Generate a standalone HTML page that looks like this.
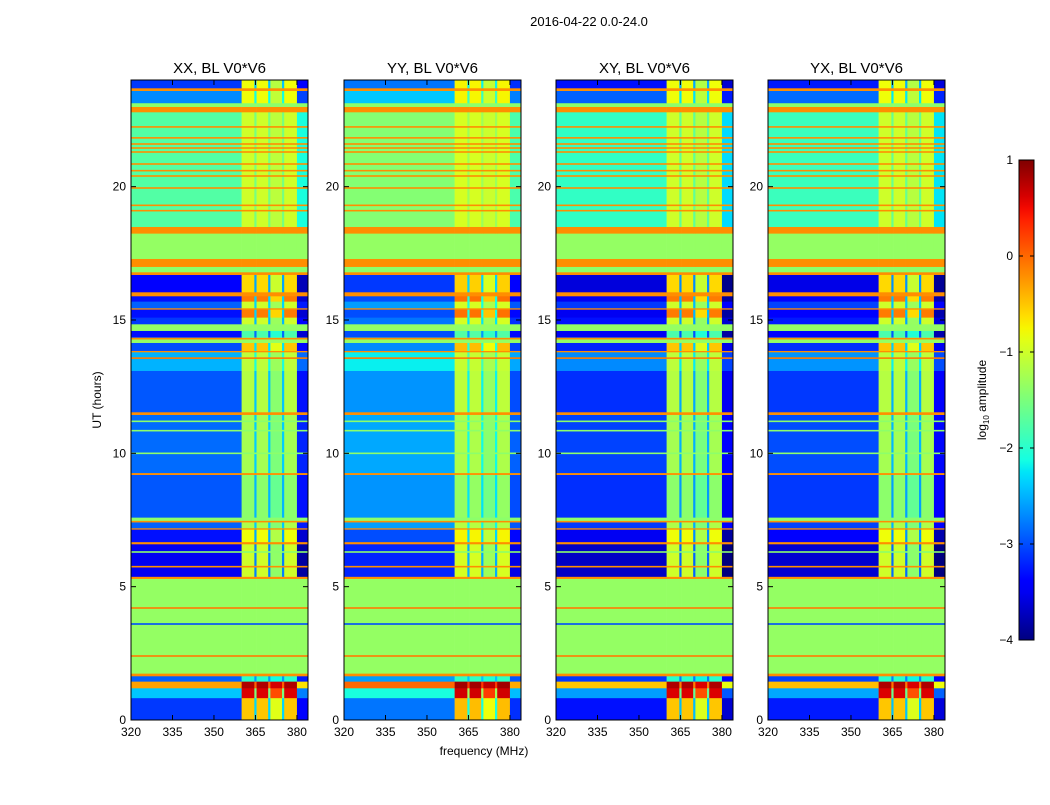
<!DOCTYPE html>
<html><head><meta charset="utf-8">
<style>
body{margin:0;background:#fff;font-family:"Liberation Sans",sans-serif;}
svg text{font-family:"Liberation Sans",sans-serif;fill:#000;}
</style></head>
<body>
<svg id="fig" width="1050" height="800" xmlns="http://www.w3.org/2000/svg">
<rect width="1050" height="800" fill="#fff"/>
<text x="589" y="26" font-size="13" text-anchor="middle">2016-04-22 0.0-24.0</text>
<text x="484" y="755" font-size="12" text-anchor="middle">frequency (MHz)</text>
<text transform="translate(101,400) rotate(-90)" font-size="12" text-anchor="middle">UT (hours)</text>
<g id="panels"></g>
<g id="cbar"></g>
</svg>
<script>
// ---- data ----
const panelTitles = ["XX, BL V0*V6","YY, BL V0*V6","XY, BL V0*V6","YX, BL V0*V6"];
const panelOutShift = [0, 0.3, -0.2, -0.15];
const panelInShift = [0, 0.05, 0, 0];
const bandStart = [0,0.83,1.2,1.45,1.65,1.75,5.3,5.38,6.6,6.68,7.15,7.2,7.42,7.48,7.6,9.2,9.27,11.45,11.55,13.1,13.8,13.85,14.15,14.35,14.6,14.85,15.1,15.4,15.45,15.7,15.9,16.05,16.7,16.8,17.0,17.3,18.25,18.5,22.8,23.0,23.14,23.6,23.7];
const bandEnd   = [0.83,1.2,1.45,1.65,1.75,5.3,5.38,6.6,6.68,7.15,7.2,7.42,7.48,7.6,9.2,9.27,11.45,11.55,13.1,13.8,13.85,14.15,14.35,14.6,14.85,15.1,15.4,15.45,15.7,15.9,16.05,16.7,16.8,17.0,17.3,18.25,18.5,22.8,23.0,23.14,23.6,23.7,24];
const bandOut   = [-3.1,-2.4,-0.3,-2.9,-0.2,-1.35,-0.2,-3.5,-0.2,-3.3,-0.2,-2.9,-0.2,-1.4,-2.95,-0.2,-2.85,-0.2,-2.95,-2.5,-0.2,-3.0,-1.35,-3.3,-1.35,-3.1,-3.3,-0.2,-2.9,-3.3,-0.2,-3.4,-0.2,-1.4,-0.2,-1.35,-0.2,-1.75,-0.2,-1.4,-2.7,-0.2,-3.1];
const bandIn    = [-0.5,0.6,0.8,-2.0,-0.2,-1.35,-0.2,-1.0,-0.2,-0.8,-0.2,-1.2,-0.2,-1.4,-1.4,-0.2,-1.25,-0.2,-1.15,-1.1,-0.2,-0.5,-1.35,-1.8,-1.35,-1.0,-0.1,-0.2,-1.0,-0.1,-0.2,-0.6,-0.2,-1.4,-0.2,-1.35,-0.2,-1.0,-0.2,-1.4,-0.8,-0.2,-0.8];
const lineHours = [2.4,3.6,4.2,5.75,6.3,10.0,10.85,11.2,13.57,14.3,19.1,19.3,19.95,20.4,20.6,20.85,21.3,21.45,21.6,21.83,22.24];
const lineVals  = [-0.1,-3.0,-0.1,-0.2,-1.4,-1.4,-1.4,-1.4,-0.1,-0.2,-0.2,-0.2,-0.2,-0.2,-0.2,-0.2,-0.2,-0.2,-0.2,-0.2,-0.2];
const freqStart = [320,360,364.6,365.4,369.6,370.4,374.6,375.4,380];
const freqEnd   = [360,364.6,365.4,369.6,370.4,374.6,375.4,380,384];
const freqWeight= [0,1,0.3,1,0.3,0.85,0.3,1,-0.35];
const xTicks = [320,335,350,365,380];
const yTicks = [0,5,10,15,20];
const cbTicks = [1,0,-1,-2,-3,-4];

// ---- helpers ----
const NS="http://www.w3.org/2000/svg";
function mk(tag,attrs,parent){const e=document.createElementNS(NS,tag);for(const k in attrs)e.setAttribute(k,attrs[k]);parent.appendChild(e);return e;}
function clip(v){return Math.max(0,Math.min(1,v));}
const JR=[[0,0],[0.35,0],[0.66,1],[0.89,1],[1,0.5]];
const JG=[[0,0],[0.125,0],[0.375,1],[0.64,1],[0.91,0],[1,0]];
const JB=[[0,0.5],[0.11,1],[0.34,1],[0.65,0],[1,0]];
function seg(pts,x){for(let k=1;k<pts.length;k++){if(x<=pts[k][0]){const a=pts[k-1],b=pts[k];return a[1]+(b[1]-a[1])*(x-a[0])/(b[0]-a[0]);}}return pts[pts.length-1][1];}
function jet(v){const x=clip((v+4)/5);return `rgb(${Math.round(seg(JR,x)*255)},${Math.round(seg(JG,x)*255)},${Math.round(seg(JB,x)*255)})`;}
const panelX=[131,344,556,768], PW=177, PT=80, PB=720;
const fmin=320,fmax=384,hmin=0,hmax=24;
function xs(p,f){return panelX[p]+(f-fmin)/(fmax-fmin)*PW;}
function ys(h){return PB-(h-hmin)/(hmax-hmin)*(PB-PT);}

const root=document.getElementById('panels');
for(let p=0;p<4;p++){
  const g=mk('g',{},root);
  
  
  const hm=mk('g',{},g);
  
  
  for(let b=0;b<bandStart.length;b++){
    const flat=bandOut[b]===bandIn[b];
    const o=flat?bandOut[b]:bandOut[b]+panelOutShift[p];
    const i=flat?bandIn[b]:bandIn[b]+panelInShift[p];
    const y0=ys(bandEnd[b]),y1=ys(bandStart[b]);
    for(let s=0;s<freqStart.length;s++){
      const w=freqWeight[s];
      const v=flat?o:(w>=0?o+w*(i-o):o+w);
      const x0=xs(p,freqStart[s]),x1=xs(p,freqEnd[s]);
      const r=mk('rect',{x:x0,y:y0,width:x1-x0+0.3,height:y1-y0+0.3,fill:jet(v)},hm);
      
      
    }
  }
  for(let l=0;l<lineHours.length;l++){
    const r=mk('rect',{x:panelX[p],y:ys(lineHours[l])-0.8,width:PW,height:1.6,fill:jet(lineVals[l])},hm);
    
    
  }
  const fr=mk('rect',{x:panelX[p],y:PT,width:PW,height:PB-PT,fill:'none',stroke:'#000','stroke-width':1},g);
  
  
  const t=mk('text',{x:panelX[p]+PW/2,y:PT-7,'font-size':15,'text-anchor':'middle'},g);
  t.textContent=panelTitles[p];
  
  
  xTicks.forEach(f=>{
    const x=xs(p,f);
    mk('line',{x1:x,x2:x,y1:PB,y2:PB-5,stroke:'#000'},g);
    mk('line',{x1:x,x2:x,y1:PT,y2:PT+5,stroke:'#000'},g);
    const tx=mk('text',{x:x,y:PB+16,'font-size':12,'text-anchor':'middle'},g);
    tx.textContent=f;
    
    
  });
  yTicks.forEach(h=>{
    const y=ys(h);
    mk('line',{x1:panelX[p],x2:panelX[p]+5,y1:y,y2:y,stroke:'#000'},g);
    mk('line',{x1:panelX[p]+PW,x2:panelX[p]+PW-5,y1:y,y2:y,stroke:'#000'},g);
    const ty=mk('text',{x:panelX[p]-5,y:y+4,'font-size':12,'text-anchor':'end'},g);
    ty.textContent=h;
    
    
  });
}
// colorbar
const cb=document.getElementById('cbar');
const CX=1019,CW=15,CT=160,CB=640;
const defs=mk('defs',{},cb);
const lg=mk('linearGradient',{id:'jg',x1:0,y1:1,x2:0,y2:0},defs);
for(let k=0;k<=40;k++){mk('stop',{offset:k/40,'stop-color':jet(-4+5*k/40)},lg);}
const cr=mk('rect',{x:CX,y:CT,width:CW,height:CB-CT,fill:'url(#jg)',stroke:'#000','stroke-width':1},cb);


function cys(v){return CB-(v+4)/5*(CB-CT);}
cbTicks.forEach(v=>{
  const y=cys(v);
  mk('line',{x1:CX,x2:CX+4,y1:y,y2:y,stroke:'#000'},cb);
  mk('line',{x1:CX+CW,x2:CX+CW-4,y1:y,y2:y,stroke:'#000'},cb);
  const t=mk('text',{x:CX-6,y:y+4,'font-size':12,'text-anchor':'end'},cb);
  t.textContent=v<0?'\u2212'+(-v):String(v);
  
  
});
const cl=mk('text',{transform:'translate(986,400) rotate(-90)','font-size':12,'text-anchor':'middle'},cb);
cl.innerHTML='log<tspan font-size="8" dy="3">10</tspan><tspan dy="-3"> amplitude</tspan>';


</script>
</body></html>
